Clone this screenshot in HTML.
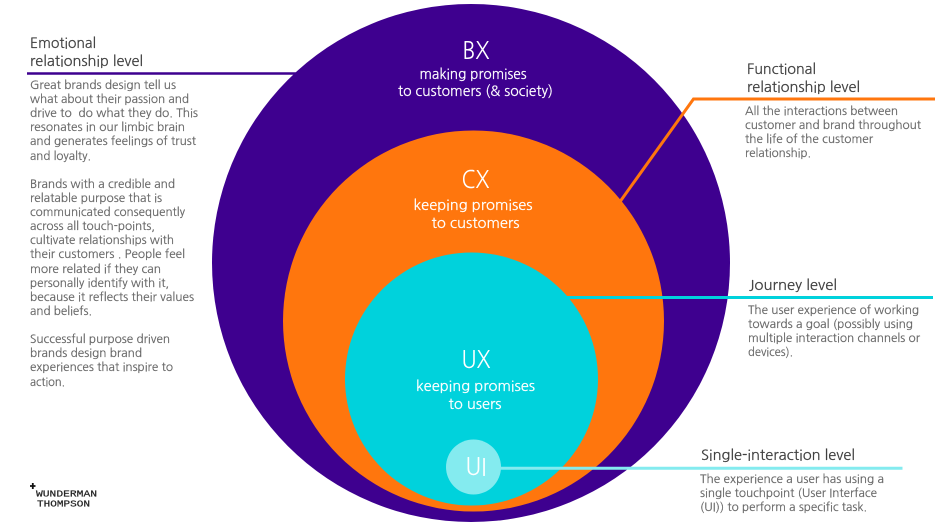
<!DOCTYPE html>
<html><head><meta charset="utf-8"><style>
html,body{margin:0;padding:0;background:#fff;width:940px;height:527px;overflow:hidden}
svg{display:block}
text{font-family:"NanumGothic","Liberation Sans",sans-serif}
.h{font-size:14.5px;fill:#404040;stroke:#404040;stroke-width:.2px}
.b{font-size:12px;fill:#686868;stroke:#686868;stroke-width:.2px}
.w{fill:#fff;stroke:#fff;stroke-width:.2px;font-size:14px;text-anchor:middle}
.t{fill:#fff;font-size:24px;text-anchor:middle}
.l{font-family:"Liberation Mono",monospace;font-size:9px;fill:#222;stroke:#222;stroke-width:.2px}
</style></head><body>
<svg width="940" height="527" viewBox="0 0 940 527" xmlns="http://www.w3.org/2000/svg">
<circle cx="471" cy="263" r="259" fill="#3e008f"/>
<circle cx="473.5" cy="321" r="190.5" fill="#ff760d"/>
<circle cx="471.5" cy="379" r="126.5" fill="#00d2dc"/>
<circle cx="473.5" cy="467" r="27.5" fill="#84ebef"/>
<line x1="27" y1="73.5" x2="300" y2="73.5" stroke="#3e008f" stroke-width="2.5"/>
<polyline points="620.500,201 693.500,99 935,99" fill="none" stroke="#ff760d" stroke-width="3"/>
<line x1="566" y1="297.500" x2="933" y2="297.500" stroke="#00d2dc" stroke-width="3"/>
<line x1="500" y1="468.200" x2="902.500" y2="468.200" stroke="#84ebef" stroke-width="3"/>

<text class="t" x="476" y="59" textLength="27" lengthAdjust="spacingAndGlyphs">BX</text>
<text class="w" x="473" y="79" textLength="107" lengthAdjust="spacingAndGlyphs">making promises</text>
<text class="w" x="475.500" y="96" textLength="155" lengthAdjust="spacingAndGlyphs">to customers (&amp; society)</text>
<text class="t" x="475.500" y="188" textLength="28" lengthAdjust="spacingAndGlyphs">CX</text>
<text class="w" x="473" y="210" textLength="119" lengthAdjust="spacingAndGlyphs">keeping promises</text>
<text class="w" x="475.500" y="228" textLength="88" lengthAdjust="spacingAndGlyphs">to customers</text>
<text class="t" x="476" y="368" textLength="29" lengthAdjust="spacingAndGlyphs">UX</text>
<text class="w" x="475.500" y="391" textLength="119" lengthAdjust="spacingAndGlyphs">keeping promises</text>
<text class="w" x="475" y="409" textLength="53" lengthAdjust="spacingAndGlyphs">to users</text>
<text class="t" x="476" y="475" textLength="21" lengthAdjust="spacingAndGlyphs">UI</text>

<text class="h" x="30" y="48" textLength="66" lengthAdjust="spacingAndGlyphs">Emotional</text>
<text class="h" x="30" y="66" textLength="113" lengthAdjust="spacingAndGlyphs">relationship level</text>
<text class="b" x="30" y="89" textLength="146" lengthAdjust="spacingAndGlyphs">Great brands design tell us</text>
<text class="b" x="30" y="103" textLength="159" lengthAdjust="spacingAndGlyphs">what about their passion and</text>
<text class="b" x="30" y="117" textLength="168" lengthAdjust="spacingAndGlyphs" xml:space="preserve">drive to  do what they do. This</text>
<text class="b" x="30" y="131" textLength="155" lengthAdjust="spacingAndGlyphs">resonates in our limbic brain</text>
<text class="b" x="30" y="145" textLength="166" lengthAdjust="spacingAndGlyphs">and generates feelings of trust</text>
<text class="b" x="30" y="160" textLength="61" lengthAdjust="spacingAndGlyphs">and loyalty.</text>
<text class="b" x="30" y="188" textLength="145" lengthAdjust="spacingAndGlyphs">Brands with a credible and</text>
<text class="b" x="30" y="202" textLength="132" lengthAdjust="spacingAndGlyphs">relatable purpose that is</text>
<text class="b" x="30" y="216" textLength="155" lengthAdjust="spacingAndGlyphs">communicated consequently</text>
<text class="b" x="30" y="230" textLength="125" lengthAdjust="spacingAndGlyphs">across all touch-points,</text>
<text class="b" x="30" y="244" textLength="144" lengthAdjust="spacingAndGlyphs">cultivate relationships with</text>
<text class="b" x="30" y="258" textLength="155" lengthAdjust="spacingAndGlyphs">their customers . People feel</text>
<text class="b" x="30" y="273" textLength="131" lengthAdjust="spacingAndGlyphs">more related if they can</text>
<text class="b" x="30" y="287" textLength="139" lengthAdjust="spacingAndGlyphs">personally identify with it,</text>
<text class="b" x="30" y="301" textLength="164" lengthAdjust="spacingAndGlyphs">because it reflects their values</text>
<text class="b" x="30" y="315" textLength="62" lengthAdjust="spacingAndGlyphs">and beliefs.</text>
<text class="b" x="30" y="343" textLength="140" lengthAdjust="spacingAndGlyphs">Successful purpose driven</text>
<text class="b" x="30" y="357" textLength="112" lengthAdjust="spacingAndGlyphs">brands design brand</text>
<text class="b" x="30" y="371" textLength="143" lengthAdjust="spacingAndGlyphs">experiences that inspire to</text>
<text class="b" x="30" y="386" textLength="35" lengthAdjust="spacingAndGlyphs">action.</text>

<text class="h" x="747" y="74" textLength="69" lengthAdjust="spacingAndGlyphs">Functional</text>
<text class="h" x="747" y="92" textLength="113" lengthAdjust="spacingAndGlyphs">relationship level</text>
<text class="b" x="745" y="115" textLength="153" lengthAdjust="spacingAndGlyphs">All the interactions between</text>
<text class="b" x="745" y="129" textLength="176" lengthAdjust="spacingAndGlyphs">customer and brand throughout</text>
<text class="b" x="745" y="143" textLength="128" lengthAdjust="spacingAndGlyphs">the life of the customer</text>
<text class="b" x="745" y="157" textLength="66" lengthAdjust="spacingAndGlyphs">relationship.</text>

<text class="h" x="749" y="290" textLength="88" lengthAdjust="spacingAndGlyphs">Journey level</text>
<text class="b" x="748" y="314" textLength="171" lengthAdjust="spacingAndGlyphs">The user experience of working</text>
<text class="b" x="748" y="328" textLength="165" lengthAdjust="spacingAndGlyphs">towards a goal (possibly using</text>
<text class="b" x="748" y="342" textLength="172" lengthAdjust="spacingAndGlyphs">multiple interaction channels or</text>
<text class="b" x="748" y="356" textLength="45" lengthAdjust="spacingAndGlyphs">devices).</text>

<text class="h" x="701" y="460" textLength="154" lengthAdjust="spacingAndGlyphs">Single-interaction level</text>
<text class="b" x="700" y="483" textLength="184" lengthAdjust="spacingAndGlyphs">The experience a user has using a</text>
<text class="b" x="700" y="497" textLength="177" lengthAdjust="spacingAndGlyphs">single touchpoint (User Interface</text>
<text class="b" x="700" y="511" textLength="167" lengthAdjust="spacingAndGlyphs">(UI)) to perform a specific task.</text>

<path d="M32.800 483v6M30 486h5.500" stroke="#111" stroke-width="1.800" fill="none"/>
<text class="l" x="36" y="496.500" textLength="61" lengthAdjust="spacingAndGlyphs">WUNDERMAN</text>
<text class="l" x="37" y="506.500" textLength="53" lengthAdjust="spacingAndGlyphs">THOMPSON</text>
</svg>
</body></html>
